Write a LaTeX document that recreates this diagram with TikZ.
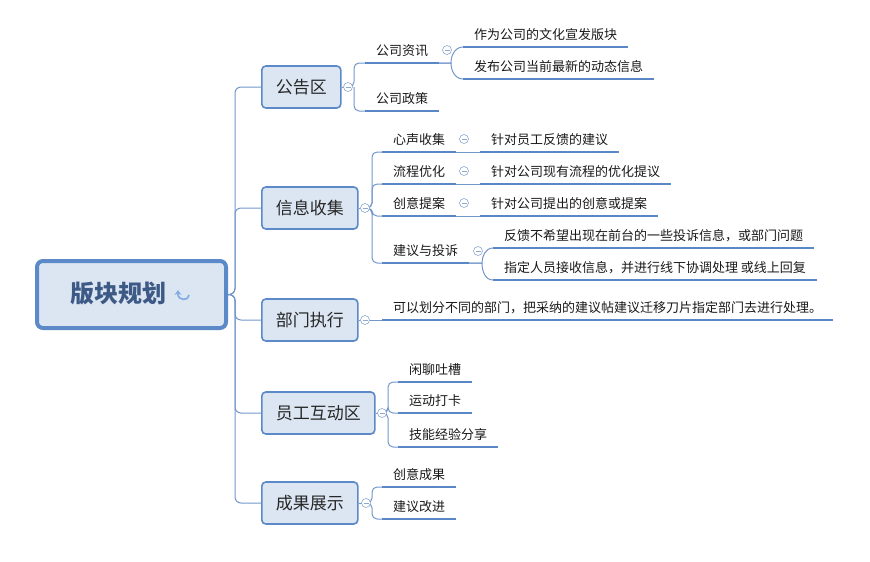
\documentclass[tikz,border=0pt]{standalone}
\usepackage{fontspec}
\setmainfont{Noto Sans CJK SC}
\usetikzlibrary{arrows.meta}
\definecolor{linec}{HTML}{7396CB}
\definecolor{ulc}{HTML}{5A87C6}
\definecolor{boxfill}{HTML}{DCE6F3}
\definecolor{boxline}{HTML}{5C89C8}
\definecolor{roottxt}{HTML}{3D5A86}
\definecolor{foldc}{HTML}{8FA8CC}
\definecolor{iconc}{HTML}{86AEE3}
\tikzset{
  rootbox/.style={draw=boxline, line width=4pt, fill=boxfill, rounded corners=6pt, minimum width=189pt, minimum height=67pt},
  topic/.style={draw=boxline, line width=1.6pt, fill=boxfill, rounded corners=4pt, inner xsep=14pt, minimum height=42pt, font=\fontsize{17}{20}\selectfont, text=black!85, anchor=west},
  sub/.style={inner xsep=11pt, inner ysep=0pt, outer sep=0pt, text height=10pt, text depth=8pt, font=\fontsize{13}{15}\selectfont, text=black!90, anchor=south west},
  fold/.style={circle, draw=foldc, fill=white, line width=0.6pt, minimum size=9pt, inner sep=0pt,
    path picture={\draw[foldc, line width=0.6pt] ([xshift=-2.5pt]path picture bounding box.center) -- ([xshift=2.5pt]path picture bounding box.center);}},
  conn/.style={draw=linec, line width=1pt},
  ul/.style={draw=ulc, line width=2.6pt},
}
\begin{document}
\begin{tikzpicture}[x=1pt, y=-1pt]
  \useasboundingbox (0,0) rectangle (870,562);

  % root
  \node[rootbox] (root) at (131.5,294.5) {};
  \node[font=\fontsize{24}{28}\selectfont\bfseries, text=roottxt] (roott) at (118.5,294) {版块规划};
  \draw[draw=iconc, line width=1.8pt, -{Stealth[length=5pt,width=7pt]}]
    (189,295) .. controls (189,301) and (178,301) .. (178,294) -- (178,290);

  % main topics
  \node[topic] (gg) at (261,87) {公告区};
  \node[topic] (xx) at (261,208) {信息收集};
  \node[topic] (bm) at (261,320) {部门执行};
  \node[topic] (yg) at (261,413) {员工互动区};
  \node[topic] (cg) at (261,503) {成果展示};
  \foreach \t in {gg,xx,bm,yg,cg}
    \draw[conn, rounded corners=6pt] (root.east) -- ++(7,0) |- (\t.west);

  % 公告区
  \node[sub] (zx) at (365,63) {公司资讯};
  \node[sub] (zc) at (365,111) {公司政策};
  \node[sub] (zx1) at (463,47) {作为公司的文化宣发版块};
  \node[sub] (zx2) at (463,79) {发布公司当前最新的动态信息};
  \draw[conn] (gg.east) -- (348,87);
  \draw[conn, rounded corners=5pt] (348,87) -- (354,87) |- (zx.south west);
  \draw[conn, rounded corners=5pt] (354,87) |- (zc.south west);
  \draw[conn] (zx.south east) -- ++(12,0) to[out=90, in=180] (zx1.south west);
  \draw[conn] (zx.south east) -- ++(12,0) to[out=-90, in=180] (zx2.south west);
  \node[fold] (ggf) at (348,87) {};
  \node[fold] (zxf) at (447,50) {};

  % 信息收集
  \node[sub] (xs) at (382,152) {心声收集};
  \node[sub] (lc) at (382,184) {流程优化};
  \node[sub] (cy) at (382,216) {创意提案};
  \node[sub] (jy) at (382,263) {建议与投诉};
  \node[sub] (xs1) at (480,152) {针对员工反馈的建议};
  \node[sub] (lc1) at (480,184) {针对公司现有流程的优化提议};
  \node[sub] (cy1) at (480,216) {针对公司提出的创意或提案};
  \node[sub] (jy1) at (493,248) {反馈不希望出现在前台的一些投诉信息，或部门问题};
  \node[sub] (jy2) at (493,280) {指定人员接收信息，并进行线下协调处理 或线上回复};
  \draw[conn] (xx.east) -- (365,208);
  \foreach \c in {xs,lc,cy,jy}
    \draw[conn, rounded corners=5pt] (365,208) -- (372,208) |- (\c.south west);
  \draw[conn] (xs.south east) -- (xs1.south west);
  \draw[conn] (lc.south east) -- (lc1.south west);
  \draw[conn] (cy.south east) -- (cy1.south west);
  \draw[conn] (jy.south east) -- ++(13,0) to[out=90, in=180] (jy1.south west);
  \draw[conn] (jy.south east) -- ++(13,0) to[out=-90, in=180] (jy2.south west);
  \node[fold] (xxf) at (365,208) {};
  \node[fold] (xsf) at (464,139) {};
  \node[fold] (lcf) at (464,171) {};
  \node[fold] (cyf) at (464,203) {};
  \node[fold] (jyf) at (478,251) {};

  % 部门执行
  \node[sub] (bm1) at (382,320) {可以划分不同的部门，把采纳的建议帖建议迁移刀片指定部门去进行处理。};
  \draw[conn] (bm.east) -- (bm1.south west);
  \node[fold] (bmf) at (365,320) {};

  % 员工互动区
  \node[sub] (xl) at (398,382) {闲聊吐槽};
  \node[sub] (yd) at (398,413) {运动打卡};
  \node[sub] (jn) at (398,447) {技能经验分享};
  \draw[conn] (yg.east) -- (382,413);
  \foreach \c in {xl,yd,jn}
    \draw[conn, rounded corners=5pt] (382,413) -- (388,413) |- (\c.south west);
  \node[fold] (ygf) at (382,413) {};

  % 成果展示
  \node[sub] (cyg) at (382,487) {创意成果};
  \node[sub] (gj) at (382,519) {建议改进};
  \draw[conn] (cg.east) -- (366,503);
  \foreach \c in {cyg,gj}
    \draw[conn, rounded corners=5pt] (366,503) -- (372,503) |- (\c.south west);
  \node[fold] (cgf) at (366,503) {};

  % underlines
  \foreach \n in {zx,zc,zx1,zx2,xs,lc,cy,jy,xs1,lc1,cy1,jy1,jy2,bm1,xl,yd,jn,cyg,gj}
    \draw[ul] (\n.south west) -- (\n.south east);
\end{tikzpicture}
\end{document}
